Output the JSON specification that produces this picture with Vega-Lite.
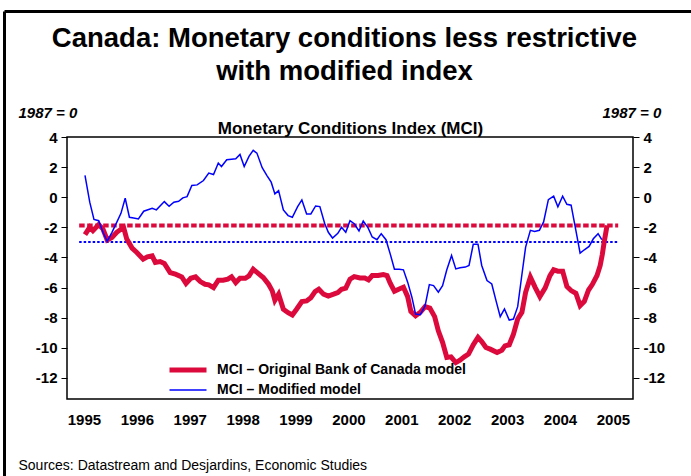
{
  "$schema": "https://vega.github.io/schema/vega-lite/v6.json",
  "autosize": "none",
  "padding": {"left": 67, "top": 137, "right": 58, "bottom": 77},
  "width": 566,
  "height": 262,
  "background": "white",
  "config": {
    "font": "Liberation Sans",
    "view": {"stroke": "#000000", "strokeWidth": 1.5},
    "axis": {"grid": false, "labelColor": "#000000", "titleColor": "#000000", "tickColor": "#000000", "domainColor": "#000000"}
  },
  "datasets": {
    "refO": [{"t": 1994.91, "v": -1.87}, {"t": 2005.1, "v": -1.87}],
    "refM": [{"t": 1994.91, "v": -2.98}, {"t": 2005.1, "v": -2.98}],
    "mci": [
      {"t": 1995.02, "v": -2.49, "s": "MCI – Original Bank of Canada model"},
      {"t": 1995.11, "v": -2.0, "s": "MCI – Original Bank of Canada model"},
      {"t": 1995.17, "v": -2.22, "s": "MCI – Original Bank of Canada model"},
      {"t": 1995.28, "v": -1.82, "s": "MCI – Original Bank of Canada model"},
      {"t": 1995.36, "v": -2.11, "s": "MCI – Original Bank of Canada model"},
      {"t": 1995.44, "v": -2.84, "s": "MCI – Original Bank of Canada model"},
      {"t": 1995.53, "v": -2.67, "s": "MCI – Original Bank of Canada model"},
      {"t": 1995.62, "v": -2.33, "s": "MCI – Original Bank of Canada model"},
      {"t": 1995.75, "v": -2.0, "s": "MCI – Original Bank of Canada model"},
      {"t": 1995.81, "v": -2.78, "s": "MCI – Original Bank of Canada model"},
      {"t": 1995.91, "v": -3.38, "s": "MCI – Original Bank of Canada model"},
      {"t": 1996.0, "v": -3.67, "s": "MCI – Original Bank of Canada model"},
      {"t": 1996.12, "v": -4.11, "s": "MCI – Original Bank of Canada model"},
      {"t": 1996.2, "v": -3.96, "s": "MCI – Original Bank of Canada model"},
      {"t": 1996.29, "v": -3.89, "s": "MCI – Original Bank of Canada model"},
      {"t": 1996.35, "v": -4.33, "s": "MCI – Original Bank of Canada model"},
      {"t": 1996.44, "v": -4.27, "s": "MCI – Original Bank of Canada model"},
      {"t": 1996.52, "v": -4.4, "s": "MCI – Original Bank of Canada model"},
      {"t": 1996.63, "v": -5.0, "s": "MCI – Original Bank of Canada model"},
      {"t": 1996.73, "v": -5.11, "s": "MCI – Original Bank of Canada model"},
      {"t": 1996.85, "v": -5.29, "s": "MCI – Original Bank of Canada model"},
      {"t": 1996.93, "v": -5.73, "s": "MCI – Original Bank of Canada model"},
      {"t": 1997.02, "v": -5.38, "s": "MCI – Original Bank of Canada model"},
      {"t": 1997.11, "v": -5.29, "s": "MCI – Original Bank of Canada model"},
      {"t": 1997.2, "v": -5.6, "s": "MCI – Original Bank of Canada model"},
      {"t": 1997.29, "v": -5.78, "s": "MCI – Original Bank of Canada model"},
      {"t": 1997.36, "v": -5.82, "s": "MCI – Original Bank of Canada model"},
      {"t": 1997.45, "v": -6.0, "s": "MCI – Original Bank of Canada model"},
      {"t": 1997.54, "v": -5.51, "s": "MCI – Original Bank of Canada model"},
      {"t": 1997.63, "v": -5.51, "s": "MCI – Original Bank of Canada model"},
      {"t": 1997.72, "v": -5.44, "s": "MCI – Original Bank of Canada model"},
      {"t": 1997.79, "v": -5.29, "s": "MCI – Original Bank of Canada model"},
      {"t": 1997.87, "v": -5.67, "s": "MCI – Original Bank of Canada model"},
      {"t": 1997.95, "v": -5.38, "s": "MCI – Original Bank of Canada model"},
      {"t": 1998.05, "v": -5.38, "s": "MCI – Original Bank of Canada model"},
      {"t": 1998.12, "v": -5.22, "s": "MCI – Original Bank of Canada model"},
      {"t": 1998.2, "v": -4.78, "s": "MCI – Original Bank of Canada model"},
      {"t": 1998.3, "v": -5.07, "s": "MCI – Original Bank of Canada model"},
      {"t": 1998.39, "v": -5.33, "s": "MCI – Original Bank of Canada model"},
      {"t": 1998.49, "v": -5.78, "s": "MCI – Original Bank of Canada model"},
      {"t": 1998.56, "v": -6.22, "s": "MCI – Original Bank of Canada model"},
      {"t": 1998.61, "v": -6.84, "s": "MCI – Original Bank of Canada model"},
      {"t": 1998.68, "v": -6.44, "s": "MCI – Original Bank of Canada model"},
      {"t": 1998.77, "v": -7.44, "s": "MCI – Original Bank of Canada model"},
      {"t": 1998.86, "v": -7.67, "s": "MCI – Original Bank of Canada model"},
      {"t": 1998.94, "v": -7.82, "s": "MCI – Original Bank of Canada model"},
      {"t": 1999.02, "v": -7.44, "s": "MCI – Original Bank of Canada model"},
      {"t": 1999.12, "v": -6.93, "s": "MCI – Original Bank of Canada model"},
      {"t": 1999.21, "v": -6.89, "s": "MCI – Original Bank of Canada model"},
      {"t": 1999.29, "v": -6.67, "s": "MCI – Original Bank of Canada model"},
      {"t": 1999.37, "v": -6.27, "s": "MCI – Original Bank of Canada model"},
      {"t": 1999.44, "v": -6.11, "s": "MCI – Original Bank of Canada model"},
      {"t": 1999.53, "v": -6.44, "s": "MCI – Original Bank of Canada model"},
      {"t": 1999.62, "v": -6.56, "s": "MCI – Original Bank of Canada model"},
      {"t": 1999.72, "v": -6.44, "s": "MCI – Original Bank of Canada model"},
      {"t": 1999.8, "v": -6.33, "s": "MCI – Original Bank of Canada model"},
      {"t": 1999.87, "v": -6.11, "s": "MCI – Original Bank of Canada model"},
      {"t": 1999.95, "v": -6.04, "s": "MCI – Original Bank of Canada model"},
      {"t": 2000.03, "v": -5.44, "s": "MCI – Original Bank of Canada model"},
      {"t": 2000.11, "v": -5.27, "s": "MCI – Original Bank of Canada model"},
      {"t": 2000.22, "v": -5.36, "s": "MCI – Original Bank of Canada model"},
      {"t": 2000.31, "v": -5.36, "s": "MCI – Original Bank of Canada model"},
      {"t": 2000.38, "v": -5.49, "s": "MCI – Original Bank of Canada model"},
      {"t": 2000.45, "v": -5.2, "s": "MCI – Original Bank of Canada model"},
      {"t": 2000.56, "v": -5.2, "s": "MCI – Original Bank of Canada model"},
      {"t": 2000.66, "v": -5.13, "s": "MCI – Original Bank of Canada model"},
      {"t": 2000.73, "v": -5.2, "s": "MCI – Original Bank of Canada model"},
      {"t": 2000.79, "v": -5.71, "s": "MCI – Original Bank of Canada model"},
      {"t": 2000.87, "v": -6.24, "s": "MCI – Original Bank of Canada model"},
      {"t": 2000.96, "v": -6.09, "s": "MCI – Original Bank of Canada model"},
      {"t": 2001.04, "v": -5.98, "s": "MCI – Original Bank of Canada model"},
      {"t": 2001.12, "v": -6.6, "s": "MCI – Original Bank of Canada model"},
      {"t": 2001.18, "v": -7.58, "s": "MCI – Original Bank of Canada model"},
      {"t": 2001.27, "v": -7.87, "s": "MCI – Original Bank of Canada model"},
      {"t": 2001.36, "v": -7.64, "s": "MCI – Original Bank of Canada model"},
      {"t": 2001.45, "v": -7.27, "s": "MCI – Original Bank of Canada model"},
      {"t": 2001.54, "v": -7.36, "s": "MCI – Original Bank of Canada model"},
      {"t": 2001.63, "v": -7.93, "s": "MCI – Original Bank of Canada model"},
      {"t": 2001.7, "v": -8.87, "s": "MCI – Original Bank of Canada model"},
      {"t": 2001.78, "v": -9.64, "s": "MCI – Original Bank of Canada model"},
      {"t": 2001.86, "v": -10.64, "s": "MCI – Original Bank of Canada model"},
      {"t": 2001.94, "v": -10.6, "s": "MCI – Original Bank of Canada model"},
      {"t": 2002.03, "v": -10.98, "s": "MCI – Original Bank of Canada model"},
      {"t": 2002.11, "v": -10.82, "s": "MCI – Original Bank of Canada model"},
      {"t": 2002.19, "v": -10.6, "s": "MCI – Original Bank of Canada model"},
      {"t": 2002.27, "v": -10.42, "s": "MCI – Original Bank of Canada model"},
      {"t": 2002.36, "v": -9.8, "s": "MCI – Original Bank of Canada model"},
      {"t": 2002.45, "v": -9.31, "s": "MCI – Original Bank of Canada model"},
      {"t": 2002.52, "v": -9.58, "s": "MCI – Original Bank of Canada model"},
      {"t": 2002.6, "v": -9.98, "s": "MCI – Original Bank of Canada model"},
      {"t": 2002.68, "v": -10.09, "s": "MCI – Original Bank of Canada model"},
      {"t": 2002.81, "v": -10.31, "s": "MCI – Original Bank of Canada model"},
      {"t": 2002.9, "v": -10.16, "s": "MCI – Original Bank of Canada model"},
      {"t": 2002.96, "v": -9.87, "s": "MCI – Original Bank of Canada model"},
      {"t": 2003.04, "v": -9.8, "s": "MCI – Original Bank of Canada model"},
      {"t": 2003.12, "v": -9.09, "s": "MCI – Original Bank of Canada model"},
      {"t": 2003.2, "v": -8.09, "s": "MCI – Original Bank of Canada model"},
      {"t": 2003.28, "v": -7.64, "s": "MCI – Original Bank of Canada model"},
      {"t": 2003.35, "v": -6.31, "s": "MCI – Original Bank of Canada model"},
      {"t": 2003.44, "v": -5.31, "s": "MCI – Original Bank of Canada model"},
      {"t": 2003.53, "v": -5.98, "s": "MCI – Original Bank of Canada model"},
      {"t": 2003.62, "v": -6.6, "s": "MCI – Original Bank of Canada model"},
      {"t": 2003.72, "v": -6.02, "s": "MCI – Original Bank of Canada model"},
      {"t": 2003.81, "v": -5.2, "s": "MCI – Original Bank of Canada model"},
      {"t": 2003.88, "v": -4.82, "s": "MCI – Original Bank of Canada model"},
      {"t": 2003.96, "v": -4.91, "s": "MCI – Original Bank of Canada model"},
      {"t": 2004.05, "v": -4.91, "s": "MCI – Original Bank of Canada model"},
      {"t": 2004.13, "v": -5.93, "s": "MCI – Original Bank of Canada model"},
      {"t": 2004.21, "v": -6.2, "s": "MCI – Original Bank of Canada model"},
      {"t": 2004.3, "v": -6.38, "s": "MCI – Original Bank of Canada model"},
      {"t": 2004.38, "v": -7.2, "s": "MCI – Original Bank of Canada model"},
      {"t": 2004.46, "v": -6.91, "s": "MCI – Original Bank of Canada model"},
      {"t": 2004.54, "v": -6.16, "s": "MCI – Original Bank of Canada model"},
      {"t": 2004.61, "v": -5.8, "s": "MCI – Original Bank of Canada model"},
      {"t": 2004.7, "v": -5.2, "s": "MCI – Original Bank of Canada model"},
      {"t": 2004.76, "v": -4.53, "s": "MCI – Original Bank of Canada model"},
      {"t": 2004.8, "v": -3.8, "s": "MCI – Original Bank of Canada model"},
      {"t": 2004.84, "v": -2.87, "s": "MCI – Original Bank of Canada model"},
      {"t": 2004.89, "v": -1.87, "s": "MCI – Original Bank of Canada model"},
      {"t": 1995.02, "v": 1.45, "s": "MCI – Modified model"},
      {"t": 1995.11, "v": -0.33, "s": "MCI – Modified model"},
      {"t": 1995.19, "v": -1.47, "s": "MCI – Modified model"},
      {"t": 1995.28, "v": -1.56, "s": "MCI – Modified model"},
      {"t": 1995.36, "v": -2.33, "s": "MCI – Modified model"},
      {"t": 1995.44, "v": -2.93, "s": "MCI – Modified model"},
      {"t": 1995.53, "v": -2.33, "s": "MCI – Modified model"},
      {"t": 1995.62, "v": -1.67, "s": "MCI – Modified model"},
      {"t": 1995.7, "v": -1.07, "s": "MCI – Modified model"},
      {"t": 1995.78, "v": -0.07, "s": "MCI – Modified model"},
      {"t": 1995.86, "v": -1.33, "s": "MCI – Modified model"},
      {"t": 1995.94, "v": -1.38, "s": "MCI – Modified model"},
      {"t": 1996.03, "v": -1.44, "s": "MCI – Modified model"},
      {"t": 1996.13, "v": -0.93, "s": "MCI – Modified model"},
      {"t": 1996.29, "v": -0.73, "s": "MCI – Modified model"},
      {"t": 1996.37, "v": -0.84, "s": "MCI – Modified model"},
      {"t": 1996.52, "v": -0.29, "s": "MCI – Modified model"},
      {"t": 1996.61, "v": -0.6, "s": "MCI – Modified model"},
      {"t": 1996.7, "v": -0.33, "s": "MCI – Modified model"},
      {"t": 1996.79, "v": -0.27, "s": "MCI – Modified model"},
      {"t": 1996.87, "v": -0.04, "s": "MCI – Modified model"},
      {"t": 1996.95, "v": 0.04, "s": "MCI – Modified model"},
      {"t": 1997.04, "v": 0.78, "s": "MCI – Modified model"},
      {"t": 1997.14, "v": 0.82, "s": "MCI – Modified model"},
      {"t": 1997.26, "v": 1.11, "s": "MCI – Modified model"},
      {"t": 1997.36, "v": 1.6, "s": "MCI – Modified model"},
      {"t": 1997.45, "v": 1.51, "s": "MCI – Modified model"},
      {"t": 1997.54, "v": 2.27, "s": "MCI – Modified model"},
      {"t": 1997.6, "v": 2.04, "s": "MCI – Modified model"},
      {"t": 1997.7, "v": 2.49, "s": "MCI – Modified model"},
      {"t": 1997.79, "v": 2.53, "s": "MCI – Modified model"},
      {"t": 1997.87, "v": 2.56, "s": "MCI – Modified model"},
      {"t": 1997.95, "v": 2.84, "s": "MCI – Modified model"},
      {"t": 1998.03, "v": 2.04, "s": "MCI – Modified model"},
      {"t": 1998.12, "v": 2.71, "s": "MCI – Modified model"},
      {"t": 1998.2, "v": 3.11, "s": "MCI – Modified model"},
      {"t": 1998.27, "v": 2.93, "s": "MCI – Modified model"},
      {"t": 1998.37, "v": 1.96, "s": "MCI – Modified model"},
      {"t": 1998.46, "v": 1.44, "s": "MCI – Modified model"},
      {"t": 1998.54, "v": 1.0, "s": "MCI – Modified model"},
      {"t": 1998.61, "v": 0.22, "s": "MCI – Modified model"},
      {"t": 1998.68, "v": 0.44, "s": "MCI – Modified model"},
      {"t": 1998.77, "v": -0.84, "s": "MCI – Modified model"},
      {"t": 1998.86, "v": -1.22, "s": "MCI – Modified model"},
      {"t": 1998.94, "v": -1.33, "s": "MCI – Modified model"},
      {"t": 1999.04, "v": -0.62, "s": "MCI – Modified model"},
      {"t": 1999.12, "v": -0.18, "s": "MCI – Modified model"},
      {"t": 1999.21, "v": -1.11, "s": "MCI – Modified model"},
      {"t": 1999.29, "v": -1.11, "s": "MCI – Modified model"},
      {"t": 1999.38, "v": -0.58, "s": "MCI – Modified model"},
      {"t": 1999.46, "v": -0.62, "s": "MCI – Modified model"},
      {"t": 1999.55, "v": -1.73, "s": "MCI – Modified model"},
      {"t": 1999.62, "v": -2.33, "s": "MCI – Modified model"},
      {"t": 1999.7, "v": -2.71, "s": "MCI – Modified model"},
      {"t": 1999.8, "v": -2.4, "s": "MCI – Modified model"},
      {"t": 1999.87, "v": -2.0, "s": "MCI – Modified model"},
      {"t": 1999.95, "v": -2.33, "s": "MCI – Modified model"},
      {"t": 2000.03, "v": -1.56, "s": "MCI – Modified model"},
      {"t": 2000.11, "v": -1.76, "s": "MCI – Modified model"},
      {"t": 2000.2, "v": -2.24, "s": "MCI – Modified model"},
      {"t": 2000.28, "v": -1.58, "s": "MCI – Modified model"},
      {"t": 2000.37, "v": -2.02, "s": "MCI – Modified model"},
      {"t": 2000.45, "v": -2.64, "s": "MCI – Modified model"},
      {"t": 2000.54, "v": -2.82, "s": "MCI – Modified model"},
      {"t": 2000.62, "v": -2.42, "s": "MCI – Modified model"},
      {"t": 2000.71, "v": -2.82, "s": "MCI – Modified model"},
      {"t": 2000.79, "v": -3.76, "s": "MCI – Modified model"},
      {"t": 2000.87, "v": -4.78, "s": "MCI – Modified model"},
      {"t": 2000.96, "v": -4.78, "s": "MCI – Modified model"},
      {"t": 2001.04, "v": -4.82, "s": "MCI – Modified model"},
      {"t": 2001.12, "v": -5.64, "s": "MCI – Modified model"},
      {"t": 2001.2, "v": -6.64, "s": "MCI – Modified model"},
      {"t": 2001.27, "v": -7.76, "s": "MCI – Modified model"},
      {"t": 2001.36, "v": -7.8, "s": "MCI – Modified model"},
      {"t": 2001.45, "v": -7.2, "s": "MCI – Modified model"},
      {"t": 2001.53, "v": -5.8, "s": "MCI – Modified model"},
      {"t": 2001.61, "v": -5.87, "s": "MCI – Modified model"},
      {"t": 2001.7, "v": -6.31, "s": "MCI – Modified model"},
      {"t": 2001.78, "v": -5.87, "s": "MCI – Modified model"},
      {"t": 2001.86, "v": -4.82, "s": "MCI – Modified model"},
      {"t": 2001.95, "v": -3.87, "s": "MCI – Modified model"},
      {"t": 2002.03, "v": -4.76, "s": "MCI – Modified model"},
      {"t": 2002.11, "v": -4.69, "s": "MCI – Modified model"},
      {"t": 2002.21, "v": -4.64, "s": "MCI – Modified model"},
      {"t": 2002.28, "v": -4.53, "s": "MCI – Modified model"},
      {"t": 2002.36, "v": -3.13, "s": "MCI – Modified model"},
      {"t": 2002.45, "v": -3.13, "s": "MCI – Modified model"},
      {"t": 2002.52, "v": -4.53, "s": "MCI – Modified model"},
      {"t": 2002.62, "v": -5.53, "s": "MCI – Modified model"},
      {"t": 2002.71, "v": -5.76, "s": "MCI – Modified model"},
      {"t": 2002.79, "v": -6.87, "s": "MCI – Modified model"},
      {"t": 2002.87, "v": -7.93, "s": "MCI – Modified model"},
      {"t": 2002.95, "v": -7.42, "s": "MCI – Modified model"},
      {"t": 2003.04, "v": -8.16, "s": "MCI – Modified model"},
      {"t": 2003.12, "v": -8.09, "s": "MCI – Modified model"},
      {"t": 2003.2, "v": -7.27, "s": "MCI – Modified model"},
      {"t": 2003.28, "v": -5.13, "s": "MCI – Modified model"},
      {"t": 2003.35, "v": -3.31, "s": "MCI – Modified model"},
      {"t": 2003.44, "v": -2.2, "s": "MCI – Modified model"},
      {"t": 2003.52, "v": -2.27, "s": "MCI – Modified model"},
      {"t": 2003.61, "v": -2.2, "s": "MCI – Modified model"},
      {"t": 2003.69, "v": -1.64, "s": "MCI – Modified model"},
      {"t": 2003.78, "v": -0.16, "s": "MCI – Modified model"},
      {"t": 2003.88, "v": 0.07, "s": "MCI – Modified model"},
      {"t": 2003.96, "v": -0.64, "s": "MCI – Modified model"},
      {"t": 2004.05, "v": 0.07, "s": "MCI – Modified model"},
      {"t": 2004.13, "v": -0.47, "s": "MCI – Modified model"},
      {"t": 2004.21, "v": -0.53, "s": "MCI – Modified model"},
      {"t": 2004.3, "v": -2.2, "s": "MCI – Modified model"},
      {"t": 2004.38, "v": -3.71, "s": "MCI – Modified model"},
      {"t": 2004.46, "v": -3.49, "s": "MCI – Modified model"},
      {"t": 2004.55, "v": -3.27, "s": "MCI – Modified model"},
      {"t": 2004.63, "v": -2.76, "s": "MCI – Modified model"},
      {"t": 2004.72, "v": -2.42, "s": "MCI – Modified model"},
      {"t": 2004.79, "v": -2.82, "s": "MCI – Modified model"}
    ]
  },
  "layer": [
    {
      "encoding": {
        "x": {
          "field": "t", "type": "quantitative",
          "scale": {"domain": [1994.68, 2005.38], "nice": false, "zero": false},
          "axis": {
            "orient": "bottom", "values": [1995, 1996, 1997, 1998, 1999, 2000, 2001, 2002, 2003, 2004, 2005],
            "format": "d", "domain": false, "ticks": false, "tickSize": 0,
            "labelFontSize": 15, "labelFontWeight": "bold", "labelPadding": 13, "labelFlush": false,
            "title": "Sources: Datastream and Desjardins, Economic Studies",
            "titleFontSize": 14, "titleFontWeight": "normal", "titleAnchor": "start",
            "titleAlign": "left", "titleBaseline": "middle", "titleX": -49, "titleY": 66
          }
        },
        "y": {
          "field": "v", "type": "quantitative",
          "scale": {"domain": [-13.4, 4], "nice": false, "zero": false},
          "axis": {
            "orient": "left", "values": [-12, -10, -8, -6, -4, -2, 0, 2, 4],
            "labelExpr": "'' + datum.value", "domain": false, "ticks": true, "tickSize": 6, "tickWidth": 1,
            "labelFontSize": 15, "labelFontWeight": "bold", "labelPadding": 4,
            "title": "1987 = 0", "titleFontSize": 15, "titleFontWeight": "bold", "titleFontStyle": "italic",
            "titleAngle": 0, "titleAlign": "left", "titleBaseline": "middle", "titleX": -49, "titleY": -25
          }
        }
      },
      "layer": [
        {"data": {"name": "refO"}, "mark": {"type": "line", "color": "#dc0a3c", "strokeWidth": 4, "strokeDash": [5.5, 2.5]}},
        {"data": {"name": "refM"}, "mark": {"type": "line", "color": "#0000ff", "strokeWidth": 2, "strokeDash": [2.5, 2]}},
        {
          "data": {"name": "mci"},
          "mark": {"type": "line"},
          "encoding": {
            "color": {
              "field": "s", "type": "nominal",
              "scale": {"domain": ["MCI – Original Bank of Canada model", "MCI – Modified model"], "range": ["#dc0a3c", "#0000ff"]},
              "legend": {"orient": "none", "legendX": 100, "legendY": 223, "title": null, "symbolType": "stroke", "symbolSize": 1369, "clipHeight": 20, "rowPadding": 0, "padding": 0, "labelFontSize": 14, "labelFontWeight": "bold", "labelColor": "#000000", "labelOffset": 8, "labelLimit": 0}
            },
            "strokeWidth": {
              "field": "s", "type": "nominal",
              "scale": {"domain": ["MCI – Original Bank of Canada model", "MCI – Modified model"], "range": [5, 1.5]},
              "legend": {"orient": "none", "legendX": 100, "legendY": 223, "title": null, "symbolType": "stroke", "symbolSize": 1369, "clipHeight": 20, "rowPadding": 0, "padding": 0, "labelFontSize": 14, "labelFontWeight": "bold", "labelColor": "#000000", "labelOffset": 8, "labelLimit": 0}
            }
          }
        }
      ]
    },
    {
      "data": {"name": "refO"},
      "mark": {"type": "point", "opacity": 0},
      "encoding": {
        "y": {
          "field": "v", "type": "quantitative",
          "scale": {"domain": [-13.4, 4], "nice": false, "zero": false},
          "axis": {
            "orient": "right", "values": [-12, -10, -8, -6, -4, -2, 0, 2, 4],
            "labelExpr": "'' + datum.value", "domain": false, "ticks": true, "tickSize": 6, "tickWidth": 1,
            "labelFontSize": 15, "labelFontWeight": "bold", "labelPadding": 4,
            "title": "1987 = 0", "titleFontSize": 15, "titleFontWeight": "bold", "titleFontStyle": "italic",
            "titleAngle": 0, "titleAlign": "left", "titleBaseline": "middle", "titleX": -31, "titleY": -25
          }
        }
      }
    },
    {
      "data": {"name": "refM"},
      "mark": {"type": "point", "opacity": 0},
      "encoding": {
        "x": {
          "field": "t", "type": "quantitative",
          "scale": {"domain": [0, 1], "range": [-63, 624], "nice": false, "zero": false},
          "axis": {
            "orient": "top", "offset": 126, "domain": true, "domainWidth": 3, "ticks": false, "labels": false,
            "title": ["Canada: Monetary conditions less restrictive", "with modified index"],
            "titleFontSize": 27.5, "titleFontWeight": "bold", "titleLineHeight": 33,
            "titleAlign": "center", "titleBaseline": "top", "titleX": 277, "titleY": 13
          }
        },
        "y": {
          "field": "v", "type": "quantitative",
          "scale": {"domain": [0, 1], "range": [339, -126], "nice": false, "zero": false},
          "axis": {
            "orient": "left", "offset": 63, "domain": true, "domainWidth": 3, "ticks": false, "labels": false,
            "title": "Monetary Conditions Index (MCI)",
            "titleFontSize": 17, "titleFontWeight": "bold", "titleAngle": 0,
            "titleAlign": "center", "titleBaseline": "middle", "titleX": 346, "titleY": -9
          }
        }
      }
    }
  ],
  "resolve": {"scale": {"x": "independent", "y": "independent"}}
}
